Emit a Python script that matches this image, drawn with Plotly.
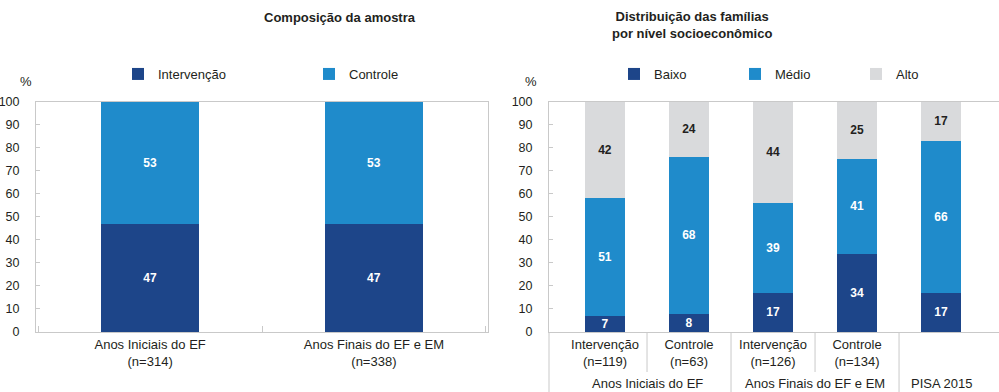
import plotly.graph_objects as go

# dados - composição da amostra
amostra_categorias = ["Anos Iniciais do EF<br>(n=314)", "Anos Finais do EF e EM<br>(n=338)"]
intervencao = [47, 47]
controle = [53, 53]

# dados - nível socioeconômico
nse_categorias = ["Intervenção<br>(n=119)", "Controle<br>(n=63)",
                  "Intervenção<br>(n=126)", "Controle<br>(n=134)", "PISA 2015"]
nse_rotulos = ["Intervenção<br>(n=119)", "Controle<br>(n=63)",
               "Intervenção<br>(n=126)", "Controle<br>(n=134)", ""]
nse_grupos = ["Anos Iniciais do EF", "Anos Iniciais do EF",
              "Anos Finais do EF e EM", "Anos Finais do EF e EM", "PISA 2015"]
baixo = [7, 8, 17, 34, 17]
medio = [51, 68, 39, 41, 66]
alto = [42, 24, 44, 25, 17]

AZUL_ESCURO = "#1d4589"
AZUL = "#1f8bcb"
CINZA = "#d9dadc"
TEXTO = "#231f20"
LINHA = "#c9c9c9"
FONTE = "Liberation Sans, Arial, sans-serif"

W, H = 999, 392


def px_x(v):
    return v / W


def px_y(v):
    return (H - v) / H


def barra(x, y, nome, cor, cor_texto, eixo, legenda, largura):
    return go.Bar(
        x=x, y=y, name=nome, marker=dict(color=cor, line=dict(width=0)),
        texttemplate="<b>%{y}</b>", textposition="inside", insidetextanchor="middle",
        textangle=0, constraintext="none",
        textfont=dict(color=cor_texto, size=12, family=FONTE),
        xaxis=eixo[0], yaxis=eixo[1], legend=legenda, width=largura,
        hoverinfo="skip",
    )


fig = go.Figure()
fig.add_trace(barra(amostra_categorias, intervencao, "Intervenção", AZUL_ESCURO, "white", ("x", "y"), "legend", 0.44))
fig.add_trace(barra(amostra_categorias, controle, "Controle", AZUL, "white", ("x", "y"), "legend", 0.44))
fig.add_trace(barra(nse_categorias, baixo, "Baixo", AZUL_ESCURO, "white", ("x2", "y2"), "legend2", 0.476))
fig.add_trace(barra(nse_categorias, medio, "Médio", AZUL, "white", ("x2", "y2"), "legend2", 0.476))
fig.add_trace(barra(nse_categorias, alto, "Alto", CINZA, TEXTO, ("x2", "y2"), "legend2", 0.476))

ydom = [px_y(332), px_y(101.5)]
eixo_y = dict(range=[0, 100], dtick=10, showgrid=False, zeroline=False,
              ticks="inside", ticklen=4, tickcolor=LINHA, showline=True,
              linecolor=LINHA, linewidth=1, mirror=True, automargin=False,
              tickfont=dict(size=12.5, color=TEXTO), ticklabelstandoff=13,
              fixedrange=True)

fig.update_layout(
    width=W, height=H, margin=dict(l=0, r=0, t=0, b=0),
    paper_bgcolor="white", plot_bgcolor="white",
    font=dict(family=FONTE, size=13, color=TEXTO),
    barmode="stack",
    xaxis=dict(domain=[px_x(36), px_x(488)], range=[-0.51, 1.51], type="category",
               showline=True, linecolor=LINHA, mirror=True, ticks="inside",
               tickson="boundaries", ticklen=6, tickcolor=LINHA, showgrid=False,
               tickfont=dict(size=13, color=TEXTO), automargin=False, fixedrange=True),
    yaxis=dict(domain=ydom, anchor="x", **eixo_y),
    xaxis2=dict(domain=[px_x(549), 1.0], range=[-0.667, 4.69], type="category",
                showline=True, linecolor=LINHA, mirror=True, ticks="",
                tickvals=nse_categorias, ticktext=nse_rotulos, showgrid=False,
                tickfont=dict(size=13, color=TEXTO), automargin=False, anchor="y2",
                fixedrange=True),
    yaxis2=dict(domain=ydom, anchor="x2", **eixo_y),
    legend=dict(orientation="h", x=px_x(118), y=px_y(74), xanchor="left", yanchor="middle",
                entrywidth=146, traceorder="normal", font=dict(size=13, color=TEXTO),
                bgcolor="rgba(0,0,0,0)"),
    legend2=dict(orientation="h", x=px_x(614), y=px_y(74), xanchor="left", yanchor="middle",
                 entrywidth=76, traceorder="normal", font=dict(size=13, color=TEXTO),
                 bgcolor="rgba(0,0,0,0)"),
    showlegend=True,
)

# títulos
fig.add_annotation(text="<b>Composição da amostra</b>", x=px_x(262), y=px_y(17),
                   xref="paper", yref="paper", showarrow=False, font=dict(size=13),
                   yanchor="middle")
fig.add_annotation(text="<b>Distribuição das famílias<br>por nível socioeconômico</b>",
                   x=px_x(774), y=px_y(25), xref="paper", yref="paper", showarrow=False,
                   font=dict(size=13), yanchor="middle")
for xp in (18, 531):
    fig.add_annotation(text="%", x=px_x(xp), y=px_y(82), xref="paper", yref="paper",
                       showarrow=False, font=dict(size=13), yanchor="middle")

# divisores do eixo categórico do painel direito
fig.add_shape(type="line", xref="x2 domain", yref="paper", x0=0, x1=0,
              y0=0, y1=ydom[0], line=dict(color=LINHA, width=1))
for i in range(len(nse_grupos) - 1):
    longo = nse_grupos[i] != nse_grupos[i + 1]
    fig.add_shape(type="line", xref="x2", yref="paper", x0=i + 0.5, x1=i + 0.5,
                  y0=0 if longo else px_y(372), y1=ydom[0],
                  line=dict(color=LINHA, width=1))

# rótulos de grupo
vistos = []
for g in nse_grupos:
    if g not in vistos:
        vistos.append(g)
for g in vistos:
    idx = [i for i, gg in enumerate(nse_grupos) if gg == g]
    fig.add_annotation(text=g, x=sum(idx) / len(idx), xref="x2", y=px_y(383), yref="paper",
                       showarrow=False, font=dict(size=13, color=TEXTO), yanchor="middle")

# sem a margem padrão do <body>
fig.write_html("out.html", config={"displayModeBar": False},
               post_script="document.body.style.margin='0';")
